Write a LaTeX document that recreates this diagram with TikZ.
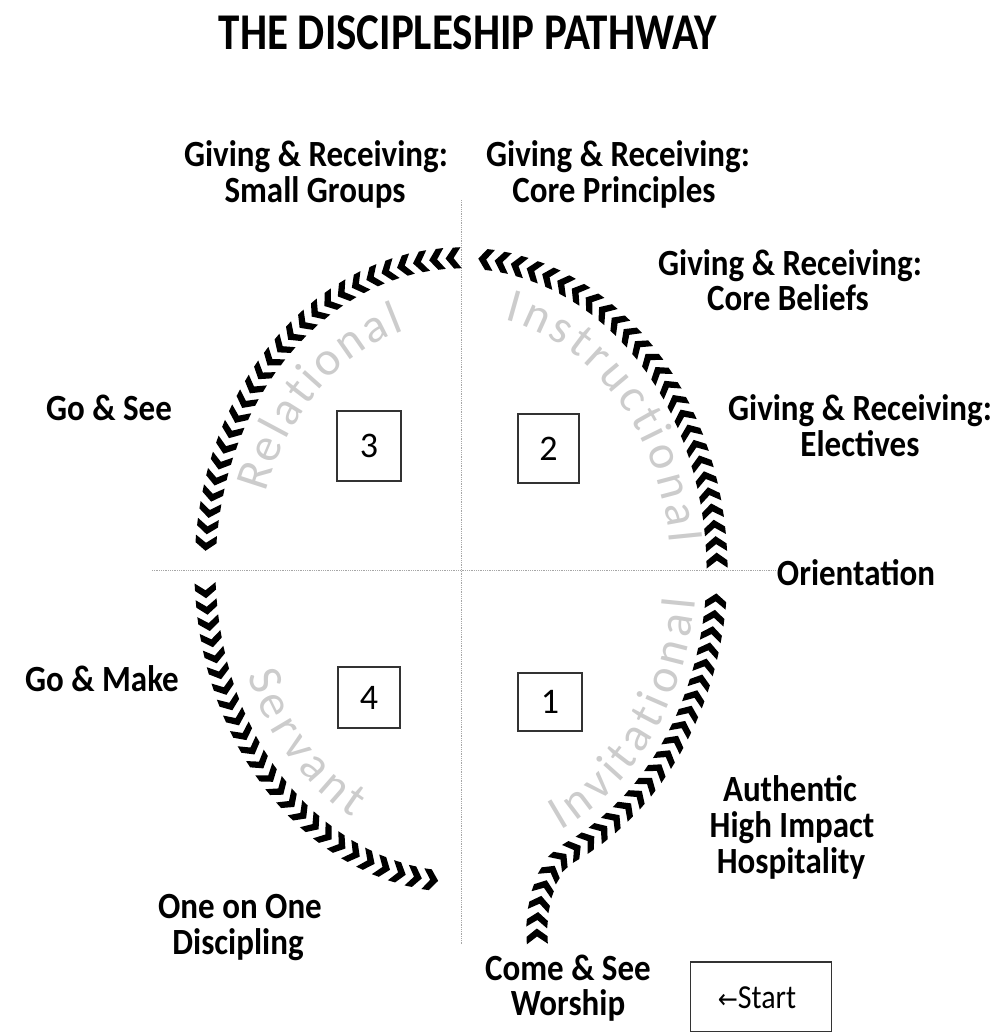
\documentclass[tikz,border=0pt]{standalone}
\usepackage{fontspec}
\setmainfont{Carlito}
\newfontfamily\arrowfont{DejaVu Sans}
\usetikzlibrary{decorations.markings,decorations.text}
\definecolor{axisgray}{gray}{0.65}
\definecolor{wmgray}{gray}{0.8}
\definecolor{boxgray}{gray}{0.2}
\newcommand{\wmfont}{\fontsize{48}{48}\selectfont}
\begin{document}
\begin{tikzpicture}[x=1pt,y=-1pt,
  lbl/.style={font=\bfseries\fontsize{33}{33}\selectfont, anchor=base, inner sep=0pt, yscale=1.12},
  ttl/.style={font=\bfseries\fontsize{43}{43}\selectfont, anchor=base, inner sep=0pt, yscale=1.2},
  numbox/.style={draw=boxgray, line width=1.6pt, font=\fontsize{36}{36}\selectfont, inner sep=0pt},
  axis/.style={draw=axisgray, densely dotted, line width=0.8pt},
  chev/.style={decorate, decoration={markings,
      mark=between positions 0 and 1 step 16.5pt with {
        \fill (6.5,0) -- (-1.5,-10.5) -- (-9,-10.5) -- (-1.5,0) -- (-9,10.5) -- (-1.5,10.5) -- cycle;}}},
  wm/.style={decorate, decoration={text along path, text align={fit to path}, text color=wmgray}}
]
\useasboundingbox (0,0) rectangle (991,1032);

% title
\node[ttl] (title) at (468,50) {THE DISCIPLESHIP PATHWAY};

% axes
\coordinate (vt) at (461,200);
\coordinate (vb) at (461,945);
\coordinate (hl) at (152,570);
\coordinate (hr) at (776,570);
\draw[axis] (vt) -- (vb);
\draw[axis] (hl) -- (hr);

% watermark texts
\path[wm, decoration={text={|\wmfont|Relational}}]
  plot[domain=198:254, samples=40] ({461+0.8*256*cos(\x)},{570+0.8*312*sin(\x)});
\path[wm, decoration={text={|\wmfont|Instructional}}]
  plot[domain=282:354, samples=40] ({461+0.82*256*cos(\x)},{570+0.82*312*sin(\x)});
\path[wm, decoration={text={|\wmfont|Servant}}]
  plot[domain=158:118, samples=40] ({461+0.9*256*cos(\x)},{570+0.9*312*sin(\x)});
\path[wm, decoration={text={|\wmfont|Invitational}}]
  plot[domain=65:6, samples=40] ({461+0.92*256*cos(\x)},{570+0.92*312*sin(\x)});

% chevron pathway
\coordinate (p0) at (537,935);
\coordinate (p1) at (569,853);
\path[chev] (p0) .. controls (536,905) and (546,866) .. (p1)
  -- plot[domain=65:4, samples=60] ({461+256*cos(\x)},{570+312*sin(\x)});
\path[chev] plot[domain=-2:-86, samples=80] ({461+256*cos(\x)},{570+312*sin(\x)});
\path[chev] plot[domain=-92:-177, samples=80] ({461+256*cos(\x)},{570+312*sin(\x)});
\path[chev] plot[domain=176:93, samples=80] ({461+256*cos(\x)},{570+312*sin(\x)});

% numbered boxes
\node[numbox, minimum width=64pt, minimum height=70pt] (n3) at (369,446) {3};
\node[numbox, minimum width=61pt, minimum height=69pt] (n2) at (548.5,448.5) {2};
\node[numbox, minimum width=62pt, minimum height=61pt] (n4) at (369,697.5) {4};
\node[numbox, minimum width=64pt, minimum height=58pt] (n1) at (550,702) {1};

% labels
\node[lbl] (sg1) at (316,167) {Giving \& Receiving:};
\node[lbl] (sg2) at (315,203) {Small Groups};
\node[lbl] (cp1) at (618,167) {Giving \& Receiving:};
\node[lbl] (cp2) at (614,203) {Core Principles};
\node[lbl] (cb1) at (790,275) {Giving \& Receiving:};
\node[lbl] (cb2) at (788,310) {Core Beliefs};
\node[lbl] (gs) at (109,420) {Go \& See};
\node[lbl] (el1) at (860,420) {Giving \& Receiving:};
\node[lbl] (el2) at (860,456) {Electives};
\node[lbl] (or) at (856,585) {Orientation};
\node[lbl] (gm) at (102,691) {Go \& Make};
\node[lbl] (au1) at (790,801) {Authentic};
\node[lbl] (au2) at (792,837) {High Impact};
\node[lbl] (au3) at (791,873) {Hospitality};
\node[lbl] (oo1) at (240,918) {One on One};
\node[lbl] (oo2) at (238,954) {Discipling};
\node[lbl] (cs1) at (568,980) {Come \& See};
\node[lbl] (cs2) at (568,1015) {Worship};

% start box
\node[draw=boxgray, line width=1.4pt, minimum width=141pt, minimum height=70pt, inner sep=0pt] (startbox) at (761,997) {};
\node[font=\fontsize{30}{30}\selectfont, anchor=base, inner sep=0pt, yscale=1.12] (start) at (757,1008) {{\arrowfont\fontsize{24}{24}\selectfont ←}Start};
\end{tikzpicture}
\end{document}
